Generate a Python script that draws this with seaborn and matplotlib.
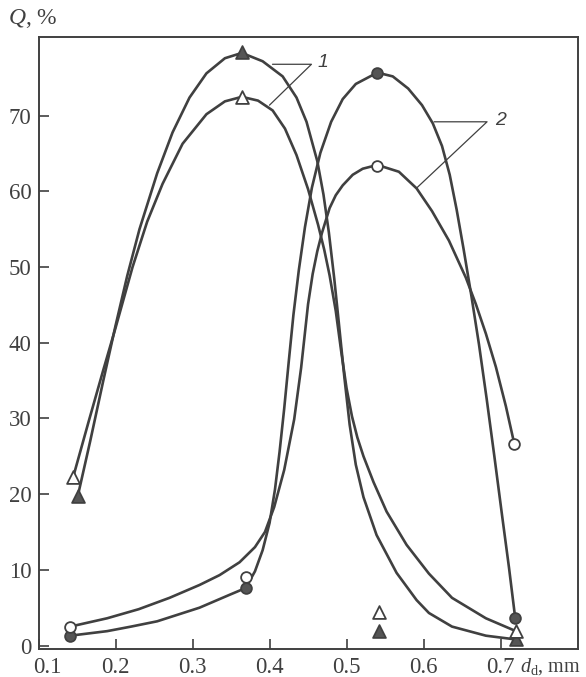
import matplotlib
matplotlib.use("Agg")
import matplotlib.pyplot as plt
import matplotlib.transforms as mtransforms
import pandas as pd
import seaborn as sns

# Measured points: droplet diameter d_d (mm) vs fraction Q (%)
d_tri_filled = [0.151, 0.364, 0.542, 0.720]
q_tri_filled = [19.8, 78.4, 1.9, 0.8]
d_tri_open = [0.145, 0.364, 0.542, 0.720]
q_tri_open = [22.3, 72.5, 4.4, 1.9]
d_circ_filled = [0.141, 0.369, 0.540, 0.719]
q_circ_filled = [1.3, 7.6, 75.7, 3.7]
d_circ_open = [0.141, 0.369, 0.540, 0.718]
q_circ_open = [2.5, 9.1, 63.4, 26.6]

# Hand-smoothed distribution curves (group 1: triangles, group 2: circles)
fit_tri_filled_d = [0.151, 0.167, 0.184, 0.200, 0.215, 0.231, 0.254, 0.274, 0.296,
                    0.318, 0.342, 0.364, 0.391, 0.417, 0.435, 0.448, 0.462, 0.470,
                    0.477, 0.484, 0.490, 0.497, 0.504, 0.512, 0.522, 0.539, 0.565,
                    0.591, 0.607, 0.637, 0.681, 0.720]
fit_tri_filled_q = [19.8, 27.0, 35.0, 42.3, 48.8, 55.0, 62.4, 67.8, 72.4,
                    75.6, 77.6, 78.3, 77.2, 75.2, 72.4, 69.2, 64.0, 59.6,
                    54.6, 48.5, 42.6, 35.6, 29.2, 23.9, 19.6, 14.6, 9.6,
                    6.0, 4.3, 2.5, 1.3, 0.8]

fit_tri_open_d = [0.145, 0.165, 0.184, 0.200, 0.222, 0.241, 0.261, 0.287, 0.318,
                  0.342, 0.364, 0.385, 0.404, 0.420, 0.435, 0.450, 0.463, 0.471,
                  0.478, 0.486, 0.493, 0.500, 0.507, 0.514, 0.522, 0.535, 0.552,
                  0.578, 0.607, 0.637, 0.681, 0.720]
fit_tri_open_q = [22.3, 29.6, 36.4, 42.0, 50.0, 56.0, 61.0, 66.3, 70.2,
                  71.9, 72.5, 72.0, 70.7, 68.3, 64.8, 60.3, 55.6, 52.3,
                  48.9, 44.2, 38.9, 34.0, 30.3, 27.5, 25.0, 21.6, 17.7,
                  13.3, 9.5, 6.3, 3.6, 1.9]

fit_circ_filled_d = [0.141, 0.189, 0.220, 0.254, 0.309, 0.348, 0.369, 0.381, 0.391,
                     0.400, 0.407, 0.413, 0.419, 0.425, 0.431, 0.438, 0.446, 0.455,
                     0.466, 0.480, 0.495, 0.512, 0.540, 0.560, 0.580, 0.598, 0.612,
                     0.624, 0.634, 0.643, 0.652, 0.662, 0.672, 0.682, 0.692, 0.702,
                     0.711, 0.719]
fit_circ_filled_q = [1.3, 1.9, 2.5, 3.2, 5.0, 6.7, 7.6, 9.8, 12.6,
                     16.2, 20.6, 25.6, 31.3, 37.6, 43.7, 49.6, 55.3, 60.5,
                     65.1, 69.2, 72.2, 74.2, 75.7, 75.2, 73.6, 71.4, 69.0,
                     66.0, 62.2, 57.6, 52.4, 46.3, 39.8, 32.6, 25.0, 17.2,
                     10.3, 3.7]

fit_circ_open_d = [0.141, 0.189, 0.230, 0.270, 0.309, 0.335, 0.361, 0.381, 0.394,
                   0.406, 0.419, 0.432, 0.441, 0.450, 0.456, 0.462, 0.468, 0.478,
                   0.486, 0.495, 0.508, 0.521, 0.540, 0.568, 0.591, 0.611, 0.633,
                   0.655, 0.668, 0.681, 0.694, 0.707, 0.718]
fit_circ_open_q = [2.5, 3.6, 4.8, 6.3, 8.0, 9.3, 11.0, 13.0, 15.0,
                   18.3, 23.2, 29.9, 36.7, 45.1, 49.1, 52.1, 54.5, 57.8,
                   59.5, 60.8, 62.2, 63.0, 63.5, 62.6, 60.4, 57.4, 53.5,
                   48.6, 45.1, 41.2, 36.8, 31.6, 26.6]

x_ticks = [0.1, 0.2, 0.3, 0.4, 0.5, 0.6, 0.7]
y_ticks = [0, 10, 20, 30, 40, 50, 60, 70]

sns.set_theme(style="ticks")
plt.rcParams["font.family"] = ["Liberation Serif", "DejaVu Serif"]
plt.rcParams["mathtext.fontset"] = "custom"
plt.rcParams["mathtext.rm"] = "Liberation Serif"
plt.rcParams["mathtext.it"] = "Liberation Serif:italic"

ink = "#404040"
fill = "#555555"

fig = plt.figure(figsize=(5.86, 6.77), dpi=100)
ax = fig.add_axes([0.0659, 0.0409, 0.9196, 0.9044])

curves = [
    (fit_tri_filled_d, fit_tri_filled_q),
    (fit_tri_open_d, fit_tri_open_q),
    (fit_circ_filled_d, fit_circ_filled_q),
    (fit_circ_open_d, fit_circ_open_q),
]
for cd, cq in curves:
    sns.lineplot(x=cd, y=cq, ax=ax, sort=False, estimator=None,
                 color=ink, linewidth=1.9, zorder=2,
                 solid_joinstyle="round", solid_capstyle="round")

# Leader lines for curve labels
ax.plot([0.4038, 0.4544, 0.3999], [76.8, 76.8, 71.4], color=ink, lw=0.9, zorder=2)
ax.plot([0.6138, 0.6825, 0.5905], [69.2, 69.2, 60.4], color=ink, lw=0.9, zorder=2)
ax.text(0.4625, 77.0, "1", fontsize=14, style="italic", family="Liberation Sans",
        color=ink, ha="left", va="center")
ax.text(0.6925, 69.4, "2", fontsize=14, style="italic", family="Liberation Sans",
        color=ink, ha="left", va="center")

markers = pd.DataFrame({
    "d": d_tri_filled + d_tri_open + d_circ_filled + d_circ_open,
    "q": q_tri_filled + q_tri_open + q_circ_filled + q_circ_open,
    "kind": ["tf"] * 4 + ["to"] * 4 + ["cf"] * 4 + ["co"] * 4,
})
styles = {
    "tf": dict(marker="^", s=85, facecolor=fill),
    "to": dict(marker="^", s=85, facecolor="white"),
    "cf": dict(marker="o", s=60, facecolor=fill),
    "co": dict(marker="o", s=60, facecolor="white"),
}
for kind, st in styles.items():
    sub = markers[markers["kind"] == kind]
    sns.scatterplot(data=sub, x="d", y="q", ax=ax, marker=st["marker"], s=st["s"],
                    color=st["facecolor"], edgecolor=ink, linewidth=1.3, zorder=3,
                    legend=False)

ax.set_xlim(0.1, 0.8)
ax.set_ylim(-0.5, 80.4)
ax.set_xticks(x_ticks)
ax.set_xticklabels([f"{v:.1f}" for v in x_ticks])
ax.set_yticks(y_ticks)
ax.set_yticklabels([str(v) for v in y_ticks])
ax.set_xlabel("")
ax.set_ylabel("")
ax.tick_params(direction="in", length=7, width=1.2, color=ink, labelsize=16.5,
               labelcolor=ink)
ax.tick_params(axis="x", pad=5.5)
ax.tick_params(axis="y", pad=5)
for sp in ax.spines.values():
    sp.set_visible(True)
    sp.set_color(ink)
    sp.set_linewidth(1.4)

# nudge the first x label away from the corner
first = ax.get_xticklabels()[0]
first.set_transform(first.get_transform() +
                    mtransforms.ScaledTranslation(9 / 100, 0, fig.dpi_scale_trans))

ax.text(-0.057, 1.030, r"$Q$, %", transform=ax.transAxes, fontsize=17,
        color=ink, ha="left", va="center")
ax.text(0.893, -0.028, r"$d_{\rm d}$, mm", transform=ax.transAxes, fontsize=14.5,
        color=ink, ha="left", va="center")

fig.savefig("out.png", dpi=100, facecolor="white")
